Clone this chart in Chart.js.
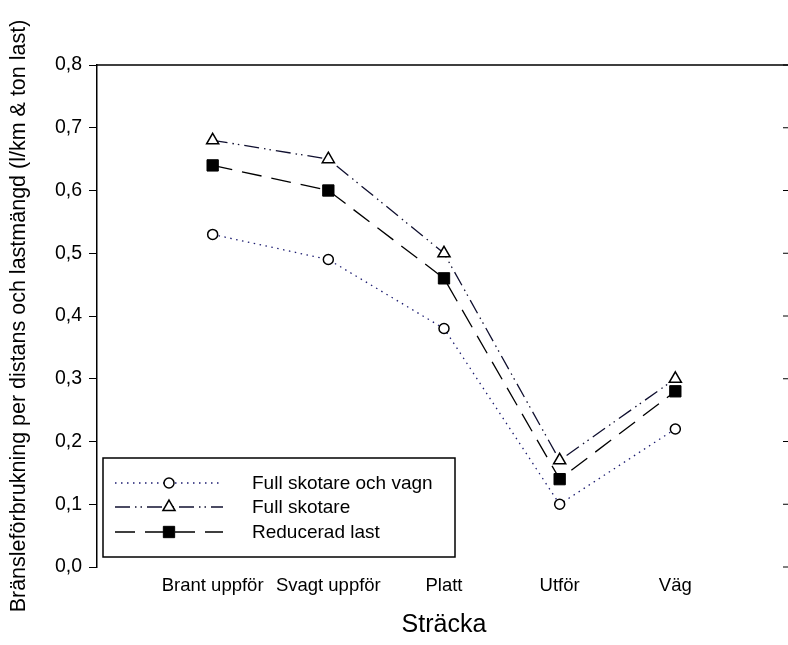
<!DOCTYPE html>
<html>
<head>
<meta charset="utf-8">
<script src="https://cdn.jsdelivr.net/npm/chart.js@4.4.1/dist/chart.umd.min.js"></script>
<style>
  html, body { margin: 0; background: #fff; overflow: hidden; width: 788px; height: 645px; }
  #wrap { position: absolute; left: 0; top: 0; width: 788px; height: 645px; overflow: hidden; }
  #chart { position: absolute; left: 0; top: 0; }
</style>
</head>
<body>
<div id="wrap"><canvas id="chart" width="800" height="645"></canvas></div>
<script>
// Data
const categories = ['Brant uppför', 'Svagt uppför', 'Platt', 'Utför', 'Väg'];
const fullSkotareOchVagn = [0.53, 0.49, 0.38, 0.10, 0.22];
const fullSkotare = [0.68, 0.65, 0.50, 0.17, 0.30];
const reduceradLast = [0.64, 0.60, 0.46, 0.14, 0.28];
const yTicks = [0, 0.1, 0.2, 0.3, 0.4, 0.5, 0.6, 0.7, 0.8];

// empty slots at both ends so the categories sit inside the frame
const labels = [''].concat(categories, ['']);
const pad = arr => [null].concat(arr, [null]);

const FONT = 'Liberation Sans, Arial, sans-serif';

// legend box drawn by hand (line sample with marker in the middle)
const legendBox = {
    id: 'legendBox',
    afterDraw(chart) {
        const ctx = chart.ctx;
        const x0 = 103, y0 = 458, w = 352, h = 99;
        ctx.save();
        ctx.strokeStyle = '#000';
        ctx.lineWidth = 1.5;
        ctx.strokeRect(x0, y0, w, h);
        const rows = [483, 507, 532];
        chart.data.datasets.forEach((ds, i) => {
            const y = rows[i];
            ctx.beginPath();
            ctx.setLineDash(ds.borderDash || []);
            ctx.strokeStyle = ds.borderColor;
            ctx.lineWidth = ds.borderWidth;
            ctx.moveTo(115, y);
            ctx.lineTo(223, y);
            ctx.stroke();
            ctx.setLineDash([]);
            ctx.fillStyle = ds.pointBackgroundColor;
            ctx.strokeStyle = ds.pointBorderColor;
            ctx.lineWidth = ds.pointBorderWidth;
            Chart.helpers.drawPoint(ctx, {
                pointStyle: ds.pointStyle,
                radius: ds.pointRadius,
                rotation: 0,
                borderWidth: ds.pointBorderWidth
            }, 169, y);
            ctx.fillStyle = '#000';
            ctx.font = '19px ' + FONT;
            ctx.textBaseline = 'middle';
            ctx.textAlign = 'left';
            ctx.fillText(ds.label, 252, y + 1);
        });
        ctx.restore();
    }
};

// top frame line and inward ticks on the right side
const frame = {
    id: 'frame',
    afterDraw(chart) {
        const ctx = chart.ctx;
        const a = chart.chartArea;
        const ys = chart.scales.y;
        ctx.save();
        ctx.strokeStyle = '#000';
        ctx.lineWidth = 1.5;
        ctx.beginPath();
        ctx.moveTo(a.left, a.top);
        ctx.lineTo(a.right, a.top);
        ctx.moveTo(a.right, a.top);
        ctx.lineTo(a.right, a.bottom);
        ctx.stroke();
        ctx.lineWidth = 1;
        yTicks.forEach(v => {
            const py = ys.getPixelForValue(v);
            ctx.beginPath();
            ctx.moveTo(a.right - 8, py);
            ctx.lineTo(a.right, py);
            ctx.stroke();
        });
        ctx.restore();
    }
};

const ctx = document.getElementById('chart').getContext('2d');
new Chart(ctx, {
    type: 'line',
    data: {
        labels: labels,
        datasets: [
            {
                label: 'Full skotare och vagn',
                data: pad(fullSkotareOchVagn),
                borderColor: '#1c1c70',
                borderWidth: 1.3,
                borderDash: [1.5, 4.5],
                pointStyle: 'circle',
                pointRadius: 5,
                pointBackgroundColor: '#fff',
                pointBorderColor: '#000',
                pointBorderWidth: 1.5
            },
            {
                label: 'Full skotare',
                data: pad(fullSkotare),
                borderColor: '#101030',
                borderWidth: 1.3,
                borderDash: [15, 5, 1.5, 4, 1.5, 5],
                pointStyle: 'triangle',
                pointRadius: 7,
                pointBackgroundColor: '#fff',
                pointBorderColor: '#000',
                pointBorderWidth: 1.5
            },
            {
                label: 'Reducerad last',
                data: pad(reduceradLast),
                borderColor: '#000',
                borderWidth: 1.3,
                borderDash: [20, 10],
                pointStyle: 'rect',
                pointRadius: 8,
                pointBackgroundColor: '#000',
                pointBorderColor: '#000',
                pointBorderWidth: 1
            }
        ]
    },
    options: {
        responsive: false,
        animation: false,
        layout: { padding: { top: 65, right: 7, left: 0, bottom: 0 } },
        plugins: {
            legend: { display: false },
            tooltip: { enabled: false }
        },
        scales: {
            x: {
                type: 'category',
                offset: false,
                grid: { display: false, drawTicks: false },
                border: { display: false },
                ticks: {
                    autoSkip: false,
                    maxRotation: 0,
                    padding: 8,
                    color: '#000',
                    font: { family: FONT, size: 18.5 }
                },
                title: {
                    display: true,
                    text: 'Sträcka',
                    color: '#000',
                    font: { family: FONT, size: 25 },
                    padding: { top: 0, bottom: 5 }
                },
                afterFit: scale => { scale.height = 78; }
            },
            y: {
                min: 0,
                max: 0.8,
                afterBuildTicks: scale => { scale.ticks = yTicks.map(v => ({ value: v })); },
                grid: {
                    drawOnChartArea: false,
                    drawTicks: true,
                    tickLength: 8,
                    color: '#000',
                    lineWidth: 1
                },
                border: { display: true, color: '#000', width: 1.5 },
                ticks: {
                    padding: 7,
                    color: '#000',
                    font: { family: FONT, size: 19.5 },
                    callback: v => v.toFixed(1).replace('.', ',')
                },
                title: {
                    display: true,
                    text: 'Bränsleförbrukning per distans och lastmängd (l/km & ton last)',
                    color: '#000',
                    font: { family: FONT, size: 21.5 },
                    padding: { top: 6, bottom: 0 }
                },
                afterFit: scale => { scale.width = 97; }
            }
        }
    },
    plugins: [frame, legendBox]
});
</script>
</body>
</html>
